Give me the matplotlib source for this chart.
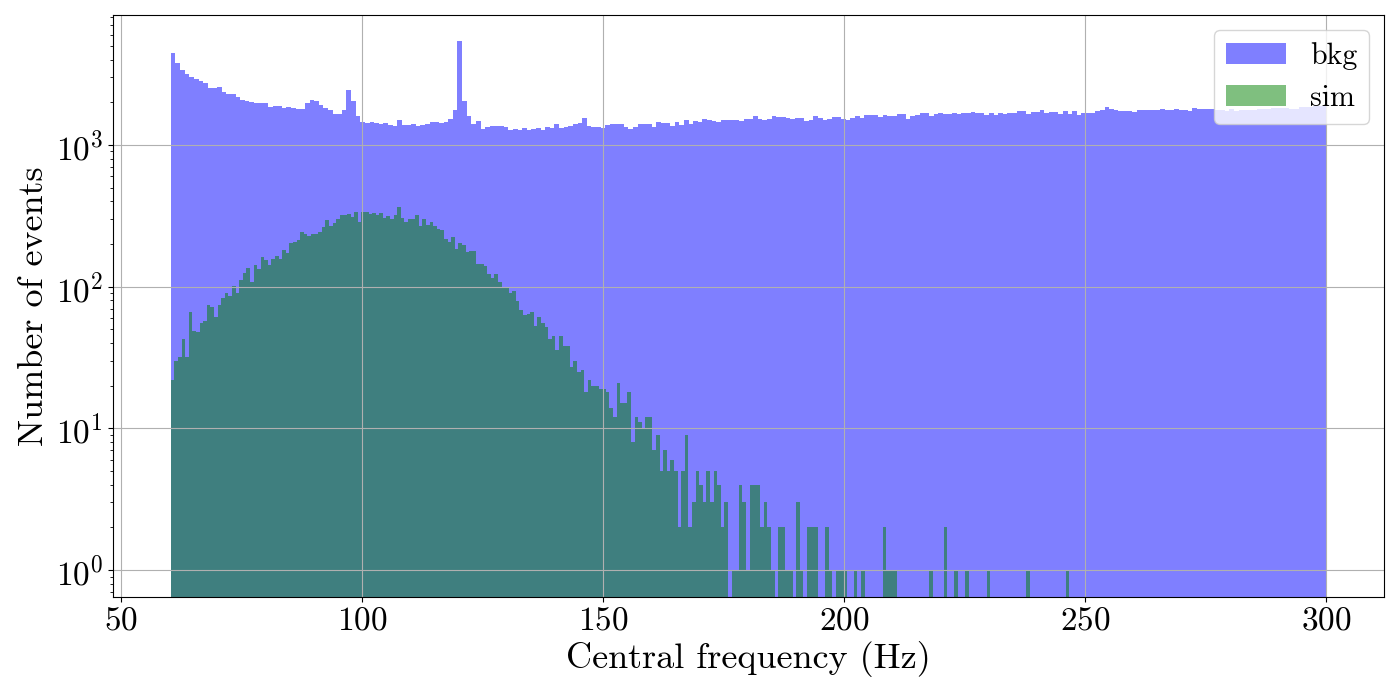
import numpy as np
import matplotlib
matplotlib.use("Agg")
import matplotlib.pyplot as plt

# Histogram counts (250 bins each)
bkg_range = (60.35, 300.0)
sim_range = (60.35, 246.7)

bkg_counts = [
    4460, 3790, 3380, 3170, 3020, 2920, 2830, 2740, 2520, 2520,
    2570, 2360, 2290, 2290, 2180, 2080, 2050, 2010, 1980, 1980,
    1980, 1850, 1880, 1880, 1820, 1850, 1820, 1800, 1800, 1980,
    2080, 2050, 1920, 1820, 1770, 1660, 1660, 1770, 2440, 2050,
    1600, 1450, 1430, 1450, 1430, 1410, 1430, 1380, 1360, 1500,
    1380, 1380, 1410, 1360, 1380, 1410, 1450, 1450, 1430, 1450,
    1525, 1770, 5420, 2050, 1600, 1410, 1475, 1300, 1340, 1360,
    1360, 1360, 1340, 1275, 1300, 1275, 1318, 1275, 1300, 1318,
    1275, 1340, 1318, 1410, 1318, 1340, 1360, 1410, 1430, 1550,
    1360, 1340, 1340, 1318, 1380, 1410, 1410, 1410, 1340, 1300,
    1340, 1410, 1410, 1410, 1340, 1450, 1430, 1430, 1360, 1450,
    1380, 1500, 1410, 1475, 1450, 1525, 1500, 1475, 1450, 1500,
    1500, 1500, 1500, 1475, 1525, 1525, 1600, 1525, 1500, 1525,
    1600, 1575, 1575, 1550, 1525, 1550, 1550, 1475, 1500, 1600,
    1550, 1500, 1525, 1575, 1575, 1525, 1500, 1550, 1600, 1550,
    1630, 1630, 1630, 1575, 1630, 1600, 1600, 1655, 1655, 1525,
    1600, 1630, 1683, 1683, 1600, 1655, 1683, 1655, 1655, 1683,
    1655, 1683, 1683, 1710, 1683, 1683, 1630, 1683, 1630, 1683,
    1655, 1683, 1683, 1740, 1740, 1655, 1710, 1710, 1770, 1683,
    1710, 1710, 1655, 1740, 1655, 1740, 1630, 1683, 1683, 1683,
    1740, 1770, 1850, 1800, 1770, 1740, 1740, 1740, 1710, 1770,
    1770, 1770, 1770, 1770, 1800, 1770, 1770, 1800, 1770, 1770,
    1740, 1820, 1800, 1800, 1800, 1800, 1770, 1770, 1740, 1800,
    1740, 1770, 1770, 1770, 1770, 1800, 1800, 1800, 1820, 1820,
    1820, 1820, 1800, 1800, 1850, 1850, 1850, 1880, 1880, 1880,
]

sim_counts = [
    22, 30, 32, 43, 32, 66, 49, 48, 55, 57,
    74, 72, 61, 74, 83, 90, 86, 101, 90, 111,
    125, 135, 108, 142, 133, 162, 154, 142, 157, 164,
    157, 181, 173, 203, 206, 213, 243, 235, 227, 235,
    235, 243, 264, 295, 268, 281, 300, 320, 320, 325,
    310, 336, 286, 336, 336, 325, 330, 320, 330, 305,
    315, 300, 320, 365, 305, 286, 300, 300, 320, 268,
    300, 272, 286, 268, 255, 251, 217, 206, 224, 184,
    203, 197, 175, 178, 178, 144, 144, 140, 123, 115,
    123, 108, 98, 98, 90, 93, 79, 68, 63, 64,
    66, 53, 61, 55, 52, 43, 45, 36, 45, 38,
    38, 27, 30, 25, 26, 18, 22, 20, 20, 19,
    19, 18, 14, 12, 21, 15, 15, 18, 8, 12,
    11, 10, 12, 12, 7, 9, 5, 7, 5, 6,
    5, 2, 5, 9, 2, 3, 5, 4, 3, 5,
    3, 5, 4, 2, 3, 0, 1, 1, 4, 3,
    1, 4, 4, 4, 2, 3, 2, 1, 0, 2,
    2, 1, 1, 0, 3, 1, 0, 2, 2, 2,
    0, 0, 2, 1, 0, 1, 1, 1, 0, 0,
    1, 0, 1, 0, 0, 0, 0, 0, 2, 1,
    1, 1, 0, 0, 0, 0, 0, 0, 0, 0,
    0, 1, 0, 0, 0, 2, 0, 0, 1, 0,
    0, 1, 0, 0, 0, 0, 0, 1, 0, 0,
    0, 0, 0, 0, 0, 0, 0, 0, 1, 0,
    0, 0, 0, 0, 0, 0, 0, 0, 0, 1,
]

# Computer Modern look (like usetex)
plt.rcParams["font.family"] = "serif"
plt.rcParams["font.serif"] = ["cmr10"]
plt.rcParams["mathtext.fontset"] = "cm"
plt.rcParams["axes.formatter.use_mathtext"] = True

bkg_edges = np.linspace(bkg_range[0], bkg_range[1], len(bkg_counts) + 1)
sim_edges = np.linspace(sim_range[0], sim_range[1], len(sim_counts) + 1)

fig = plt.figure(figsize=(14, 7), dpi=100)
ax = fig.add_axes([0.0807, 0.1471, 0.9079, 0.8315])

# Plotting the two histograms
ax.hist(bkg_edges[:-1], bins=bkg_edges, weights=bkg_counts,
        color="blue", alpha=0.5, label="bkg", log=True)
ax.hist(sim_edges[:-1], bins=sim_edges, weights=sim_counts,
        color="green", alpha=0.5, label="sim", log=True)

ax.set_xlim(48.35, 311.95)
ax.set_ylim(0.645, 8260)
ax.grid(True)

# Labelling
ax.set_xlabel("Central frequency (Hz)", fontsize=26)
ax.set_ylabel("Number of events", fontsize=26)
ax.tick_params(axis="both", which="major", labelsize=24)
ax.legend(loc="upper right", fontsize=21.5)

fig.savefig("out.png", dpi=100)
